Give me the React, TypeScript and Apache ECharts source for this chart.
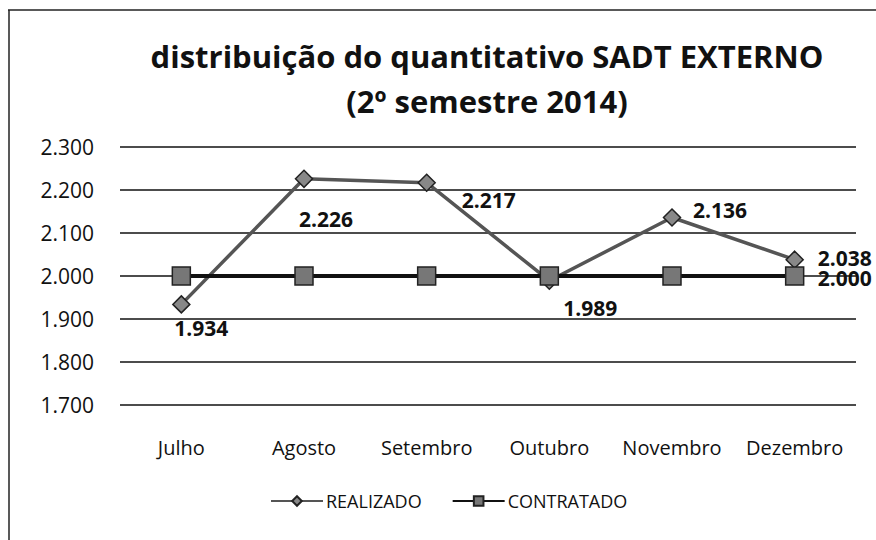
import React, { useEffect, useRef } from "react";
import * as echarts from "echarts";

const categories = ["Julho", "Agosto", "Setembro", "Outubro", "Novembro", "Dezembro"];
const realizado = [1934, 2226, 2217, 1989, 2136, 2038];
const contratado = [2000, 2000, 2000, 2000, 2000, 2000];
const realizadoLabelOffsets = [[20, 24], [22, 40], [62, 17], [41, 27], [48, -8], [50, -2]];
const yMin = 1700;
const yMax = 2300;
const yStep = 100;

const fmt = (v: number) => {
  const s = String(Math.round(v));
  return s.length > 3 ? s.slice(0, s.length - 3) + "." + s.slice(-3) : s;
};

const FONT = "'Open Sans', 'Liberation Sans', sans-serif";

export default function App() {
  const ref = useRef<HTMLDivElement>(null);
  useEffect(() => {
    if (!ref.current) return;
    const chart = echarts.init(ref.current, null, { renderer: "svg" });
    const labelStyle = {
      fontFamily: FONT,
      fontSize: 21,
      fontWeight: "bold" as const,
      color: "#111",
    };
    chart.setOption({
      animation: false,
      backgroundColor: "#fff",
      title: {
        text: "distribuição do quantitativo SADT EXTERNO\n(2º semestre 2014)",
        left: 482,
        top: 28,
        textAlign: "center",
        textStyle: {
          fontFamily: FONT,
          fontSize: 31,
          fontWeight: "bold",
          color: "#111",
          lineHeight: 45,
        },
      },
      graphic: [
        {
          type: "line",
          shape: { x1: 8, y1: 10, x2: 876, y2: 10 },
          style: { stroke: "#222", lineWidth: 1.5 },
          silent: true,
        },
        {
          type: "line",
          shape: { x1: 9, y1: 10, x2: 9, y2: 540 },
          style: { stroke: "#222", lineWidth: 1.5 },
          silent: true,
        },
      ],
      legend: {
        bottom: 25,
        left: 265,
        itemWidth: 52,
        itemHeight: 12,
        itemGap: 30,
        textStyle: { fontFamily: FONT, fontSize: 18, color: "#111", padding: [0, 0, 0, -2] },
        data: ["REALIZADO", "CONTRATADO"],
      },
      grid: { left: 120, right: 20, top: 147, bottom: 135 },
      xAxis: {
        type: "category",
        data: categories,
        boundaryGap: true,
        axisLine: { show: false },
        axisTick: { show: false },
        axisLabel: {
          interval: 0,
          fontFamily: FONT,
          fontSize: 20,
          color: "#111",
          margin: 32,
        },
      },
      yAxis: {
        type: "value",
        min: yMin,
        max: yMax,
        interval: yStep,
        axisLine: { show: false },
        axisTick: { show: false },
        splitLine: { lineStyle: { color: "#111", width: 1.5 } },
        axisLabel: {
          fontFamily: FONT,
          fontSize: 21,
          color: "#111",
          margin: 26,
          formatter: (v: number) => fmt(v),
        },
      },
      series: [
        {
          name: "REALIZADO",
          type: "line",
          data: realizado.map((v, i) => ({
            value: v,
            label: {
              show: true,
              position: "inside",
              offset: realizadoLabelOffsets[i],
              align: "center",
              verticalAlign: "middle",
              formatter: () => fmt(v),
              ...labelStyle,
            },
          })),
          symbol: "diamond",
          symbolSize: 17,
          lineStyle: { color: "#555", width: 3.5 },
          itemStyle: { color: "#888", borderColor: "#222", borderWidth: 1.5 },
          z: 2,
        },
        {
          name: "CONTRATADO",
          type: "line",
          data: contratado.map((v, i) => ({
            value: v,
            label: {
              show: i === contratado.length - 1,
              position: "inside",
              offset: [50, 2],
              align: "center",
              verticalAlign: "middle",
              formatter: () => fmt(v),
              ...labelStyle,
            },
          })),
          symbol: "rect",
          symbolSize: 18,
          lineStyle: { color: "#111", width: 4 },
          itemStyle: { color: "#777", borderColor: "#222", borderWidth: 1.5 },
          z: 3,
        },
      ],
    });
    return () => chart.dispose();
  }, []);
  return (
    <div
      ref={ref}
      style={{ position: "fixed", left: 0, top: 0, width: 876, height: 540 }}
    />
  );
}
